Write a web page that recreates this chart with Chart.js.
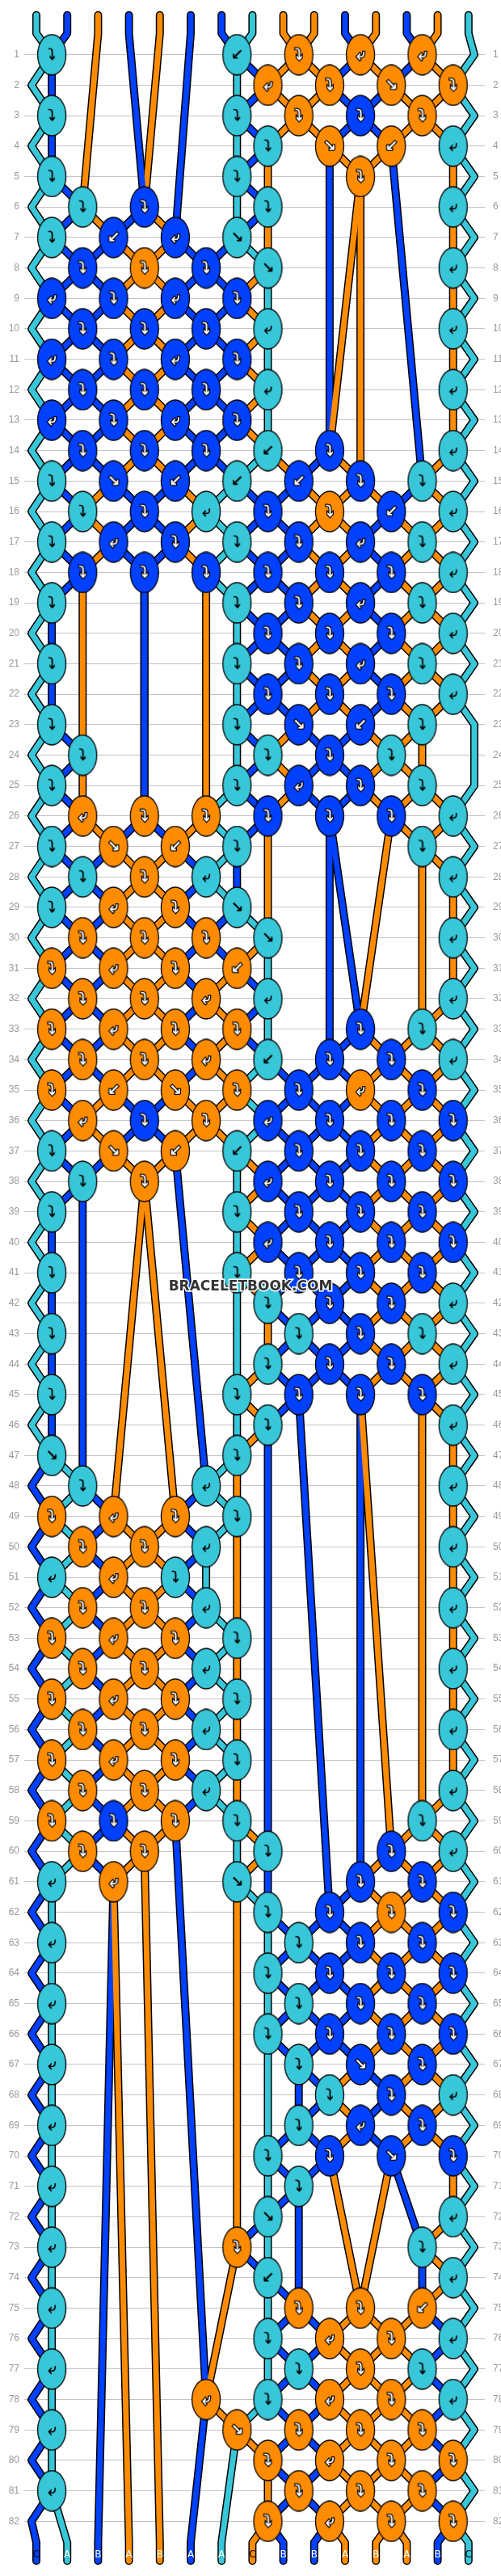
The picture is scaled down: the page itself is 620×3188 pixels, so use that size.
<!DOCTYPE html>
<html>
<head>
<meta charset="utf-8">
<script src="https://cdn.jsdelivr.net/npm/chart.js@4.4.1/dist/chart.umd.min.js"></script>
<style>
  html, body { margin: 0; padding: 0; background: #fff; }
  #wrap { width: 620px; height: 3188px; }
</style>
</head>
<body>
<div id="wrap"><canvas id="pattern"></canvas></div>
<script>
// strings at the top, left to right
const startStrings = ['C','A','B','A','B','A','A','C','B','B','A','B','A','B','C'];
const endStrings   = ['C','A','B','A','B','A','A','C','B','B','A','B','A','B','C'];
const rowLabels = Array.from({ length: 82 }, (_, i) => i + 1);

// knot colours per row, 7 slots each ('.' = no knot)
const knotRows = [
  'T..TOOO', '...OOOO', 'T..TOAO', '...TOOT', 'T..T.O.', 'TA.T..T', 'TAAT...', 'AOAT..T',
  'AAAA...', 'AAAT..T', 'AAAA...', 'AAAT..T', 'AAAA...', 'AAATA.T', 'TAATAAT', 'TATAOAT',
  'TAATAAT', 'AAAAAAT', 'T..TAAT', '...AAAT', 'T..TAAT', '...AAAT', 'T..TAAT', 'T..TAT.',
  'T..TAAT', 'OOOAAAT', 'TOOT..T', 'TOT...T', 'TOOT...', 'OOOT..T', 'OOOO...', 'OOOT..T',
  'OOOO.AT', 'OOOTAAT', 'OOOOAOA', 'OAOAAAA', 'TOOTAAA', 'TO.AAAA', 'T..TAAA', '...AAAA',
  'T..TAAA', '...TAAT', 'T...TAT', '...TAAT', 'T..TAAA', '...T..T', 'T..T...', 'T.T...T',
  'OOOT...', 'OOT...T', 'TOT....', 'OOT...T', 'OOOT...', 'OOT...T', 'OOOT...', 'OOT...T',
  'OOOT...', 'OOT...T', 'OAOT..T', 'OO.T.AT', 'TO.T.AA', '...TAOA', 'T...TAA', '...TAAA',
  'T...TAA', '...TAAA', 'T...TAA', '....TAT', 'T...TAA', '...TAAA', 'T...T..', '...T..T',
  'T..O..T', '...T..T', 'T...OOO', '...TOOT', 'T...TOT', '..OTOOT', 'T..OOOO', '...OOOO',
  'T...OOO', '...OOOO'
];

const COLORS = { C: '#38c7d8', A: '#0040ff', B: '#ff8c00' };
const KNOT_COLORS = { T: '#38c7d8', A: '#0040ff', O: '#ff8c00' };
const toKnot = { C: 'T', A: 'A', B: 'O' };

const posX = i => 45 + 38.2 * i;
const slotPositions = (row, k) => (row % 2 === 1) ? [2 * k, 2 * k + 1] : [2 * k + 1, 2 * k + 2];

function nextKnotColor(row, q) {
  for (let r = row + 1; r <= knotRows.length; r++) {
    const k = (r % 2 === 1) ? Math.floor(q / 2) : Math.floor((q - 1) / 2);
    if (k < 0 || k > 6) continue;
    const [a, b] = slotPositions(r, k);
    if (a !== q && b !== q) continue;
    const c = knotRows[r - 1][k];
    if (c !== '.') return c;
  }
  return null;
}

// follow the strings through the knots
const strings = startStrings.map((s, i) => ({ colour: s, pts: [{ x: posX(i), y: -0.3 }, { x: posX(i), y: 0.3 }] }));
let order = strings.map((_, i) => i);
const knotPoints = [];
const knotGlyphs = [];

knotRows.forEach((pattern, ri) => {
  const row = ri + 1;
  const inKnot = new Set();
  for (let k = 0; k < 7; k++) {
    const kc = pattern[k];
    if (kc === '.') continue;
    const [p, q] = slotPositions(row, k);
    const L = order[p], R = order[q];
    const cl = toKnot[strings[L].colour], cr = toKnot[strings[R].colour];
    const cx = (posX(p) + posX(q)) / 2;
    strings[L].pts.push({ x: cx, y: row });
    strings[R].pts.push({ x: cx, y: row });
    inKnot.add(p); inKnot.add(q);
    let swap = false, leftKnotter = true;
    if (kc === cl && kc !== cr) {
      const stay = (nextKnotColor(row, p) === kc) + (nextKnotColor(row, q) === cr);
      const sw = (nextKnotColor(row, q) === kc) + (nextKnotColor(row, p) === cr);
      swap = sw > stay;
    } else if (kc === cr && kc !== cl) {
      leftKnotter = false;
      const stay = (nextKnotColor(row, q) === kc) + (nextKnotColor(row, p) === cl);
      const sw = (nextKnotColor(row, p) === kc) + (nextKnotColor(row, q) === cl);
      swap = sw > stay;
    }
    if (swap) { order[p] = R; order[q] = L; }
    knotPoints.push({ x: cx, y: row });
    knotGlyphs.push({ c: kc, g: swap ? (leftKnotter ? '↘' : '↙') : (leftKnotter ? '⤵' : '⤶') });
  }
  if (!inKnot.has(0)) strings[order[0]].pts.push({ x: 39, y: row });
  if (!inKnot.has(14)) strings[order[14]].pts.push({ x: 587, y: row });
});
order.forEach((si, i) => {
  strings[si].pts.push({ x: posX(i), y: 82.7 }, { x: posX(i), y: 83.3 });
});

const imgCache = {};
function knotImage(c, g) {
  const key = c + g;
  if (imgCache[key]) return imgCache[key];
  const cv = document.createElement('canvas');
  cv.width = 38; cv.height = 52;
  const x = cv.getContext('2d');
  x.beginPath();
  x.ellipse(19, 26, 17.5, 25, 0, 0, Math.PI * 2);
  x.fillStyle = KNOT_COLORS[c];
  x.fill();
  x.lineWidth = 1.3; x.strokeStyle = '#000'; x.stroke();
  x.font = 'bold 19px "DejaVu Sans"';
  x.textAlign = 'center'; x.textBaseline = 'middle';
  if (c === 'T') { x.fillStyle = '#000'; x.fillText(g, 19, 27); }
  else { x.lineWidth = 2.5; x.strokeStyle = '#000'; x.strokeText(g, 19, 27); x.fillStyle = '#fff'; x.fillText(g, 19, 27); }
  imgCache[key] = cv;
  return cv;
}

const datasets = [];
datasets.push({
  data: knotPoints, showLine: false, order: 0,
  pointStyle: knotGlyphs.map(k => knotImage(k.c, k.g))
});
strings.forEach(s => {
  datasets.push({ data: s.pts, showLine: true, borderColor: COLORS[s.colour], borderWidth: 7, pointRadius: 0, order: 1, borderJoinStyle: 'round', borderCapStyle: 'round' });
  datasets.push({ data: s.pts, showLine: true, borderColor: '#000', borderWidth: 10, pointRadius: 0, order: 2, borderJoinStyle: 'round', borderCapStyle: 'round' });
});

const endLetters = {
  id: 'endLetters',
  afterDatasetsDraw(chart) {
    const { ctx, scales: { x, y } } = chart;
    ctx.save();
    ctx.font = '12px "DejaVu Sans"';
    ctx.textAlign = 'center'; ctx.textBaseline = 'middle';
    const put = (list, yv) => list.forEach((s, i) => {
      ctx.fillStyle = s === 'C' ? '#000' : '#fff';
      ctx.fillText(s, x.getPixelForValue(posX(i)), y.getPixelForValue(yv));
    });
    put(startStrings, -1.1);
    put(endStrings, 83.1);
    ctx.font = 'bold 17px "DejaVu Sans"';
    ctx.lineWidth = 3; ctx.strokeStyle = '#fff';
    ctx.strokeText('BRACELETBOOK.COM', x.getPixelForValue(310), y.getPixelForValue(41.45));
    ctx.fillStyle = '#333';
    ctx.fillText('BRACELETBOOK.COM', x.getPixelForValue(310), y.getPixelForValue(41.45));
    ctx.restore();
  }
};

const tickCfg = {
  color: '#999', font: { family: 'Liberation Sans', size: 12 },
  stepSize: 1, autoSkip: false,
  callback: v => rowLabels.includes(v) ? String(v) : ''
};

new Chart(document.getElementById('pattern'), {
  type: 'scatter',
  data: { datasets },
  options: {
    responsive: true, maintainAspectRatio: false, animation: false,
    layout: { padding: 0 },
    plugins: { legend: { display: false }, tooltip: { enabled: false } },
    scales: {
      x: { type: 'linear', min: 30, max: 600, display: false },
      y: {
        reverse: true, min: -0.447, max: 83.447, position: 'left',
        grid: { color: ctx => rowLabels.includes(ctx.tick.value) ? '#c4c4c4' : 'transparent', drawTicks: false },
        border: { display: false },
        ticks: { ...tickCfg, padding: 6 },
        afterFit: s => { s.width = 30; }
      },
      y2: {
        reverse: true, min: -0.447, max: 83.447, position: 'right',
        grid: { display: false }, border: { display: false },
        ticks: { ...tickCfg, padding: 2 },
        afterFit: s => { s.width = 20; }
      }
    }
  },
  plugins: [endLetters]
});
</script>
</body>
</html>
